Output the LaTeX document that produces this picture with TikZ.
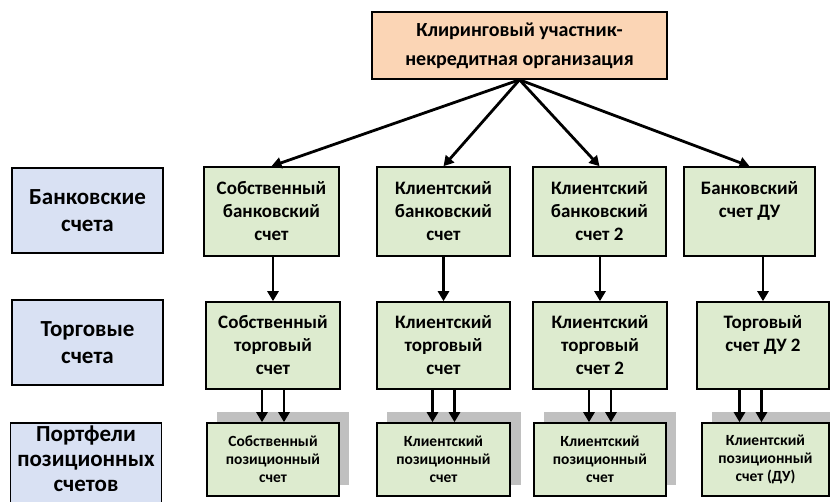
\documentclass[tikz,border=0pt]{standalone}
\usepackage{fontspec}
\setmainfont{Carlito}
\usetikzlibrary{arrows.meta,calc}
\definecolor{peach}{HTML}{FBD5B5}
\definecolor{bluef}{HTML}{D9E1F3}
\definecolor{greenf}{HTML}{DDEBCF}
\definecolor{shadowg}{HTML}{C0C0C0}
\begin{document}
\begin{tikzpicture}[x=1pt,y=-1pt,
  box/.style={draw=black,line width=1.6pt,rectangle,align=center,inner sep=0pt,font=\bfseries},
  topbox/.style={box,fill=peach,minimum width=295pt,minimum height=67pt,font=\bfseries\fontsize{20}{29}\selectfont},
  rowbox/.style={box,fill=bluef,minimum width=151pt,minimum height=85pt,font=\bfseries\fontsize{23}{27}\selectfont},
  accbox/.style={box,fill=greenf,font=\bfseries\fontsize{19}{23}\selectfont},
  posbox/.style={box,fill=greenf,font=\bfseries\fontsize{15.5}{18}\selectfont},
  shadowbox/.style={fill=shadowg,draw=none},
  arr/.style={line width=2.8pt,-{Triangle[width=11pt,length=10pt]}}
]
\useasboundingbox (0,0) rectangle (830,502);

% top
\node[topbox] (top) at (519.5,45.5) {Клиринговый участник-\\некредитная организация};

% left labels
\node[rowbox] (b1) at (87.5,210.5) {Банковские\\счета};
\node[rowbox] (b2) at (87.5,342.5) {Торговые\\счета};
\node[rowbox,minimum height=84pt,font=\bfseries\fontsize{23}{25}\selectfont] (b3) at (86,465) {};
\node[font=\bfseries\fontsize{23}{25}\selectfont,align=center,inner sep=0pt] (b3t) at (86,459) {Портфели\\позиционных\\счетов};

% row 1
\node[accbox,minimum width=135pt,minimum height=89pt] (g11) at (271.5,211.5) {Собственный\\банковский\\счет};
\node[accbox,minimum width=133pt,minimum height=89pt] (g12) at (443.5,211.5) {Клиентский\\банковский\\счет};
\node[accbox,minimum width=133pt,minimum height=89pt] (g13) at (599.5,211.5) {Клиентский\\банковский\\счет 2};
\node[accbox,minimum width=131pt,minimum height=89pt] (g14) at (749.5,211.5) {Банковский\\счет ДУ\\\mbox{}};

% row 2
\node[accbox,minimum width=134pt,minimum height=87pt] (g21) at (273,345.5) {Собственный\\торговый\\счет};
\node[accbox,minimum width=133pt,minimum height=87pt] (g22) at (443.5,345.5) {Клиентский\\торговый\\счет};
\node[accbox,minimum width=134pt,minimum height=87pt] (g23) at (600,345.5) {Клиентский\\торговый\\счет 2};
\node[accbox,minimum width=132pt,minimum height=87pt] (g24) at (763,345.5) {Торговый\\счет ДУ 2\\\mbox{}};

% row 3 shadows
\fill[shadowbox] (217,412) rectangle (349,485);
\fill[shadowbox] (387,412) rectangle (521,485);
\fill[shadowbox] (544,412) rectangle (676,485);
\fill[shadowbox] (712,412) rectangle (838,485);

% row 3
\node[posbox,minimum width=132pt,minimum height=73pt] (g31) at (273,459.5) {Собственный\\позиционный\\счет};
\node[posbox,minimum width=133pt,minimum height=73pt] (g32) at (443.5,459.5) {Клиентский\\позиционный\\счет};
\node[posbox,minimum width=132pt,minimum height=73pt] (g33) at (600,459.5) {Клиентский\\позиционный\\счет};
\node[posbox,minimum width=127pt,minimum height=73pt] (g34) at (765.5,459.5) {Клиентский\\позиционный\\счет (ДУ)};

% arrows top
\foreach \t in {g11,g12,g13,g14} \draw[arr] (top.south) -- (\t.north);

% row1 -> row2
\draw[arr] (g11.south -| g21.north) -- (g21.north);
\draw[arr] (g12.south -| g22.north) -- (g22.north);
\draw[arr] (g13.south -| g23.north) -- (g23.north);
\draw[arr] (g14.south -| g24.north) -- (g24.north);

% row2 -> row3 double
\foreach \r/\p/\c in {g21/g31/0, g22/g32/0, g23/g33/0, g24/g34/-12.5} {
  \draw[arr] ($(\r.south)+(\c-11,0)$) -- ($(\r.south |- \p.north)+(\c-11,0)$);
  \draw[arr] ($(\r.south)+(\c+11,0)$) -- ($(\r.south |- \p.north)+(\c+11,0)$);
}
\end{tikzpicture}
\end{document}
